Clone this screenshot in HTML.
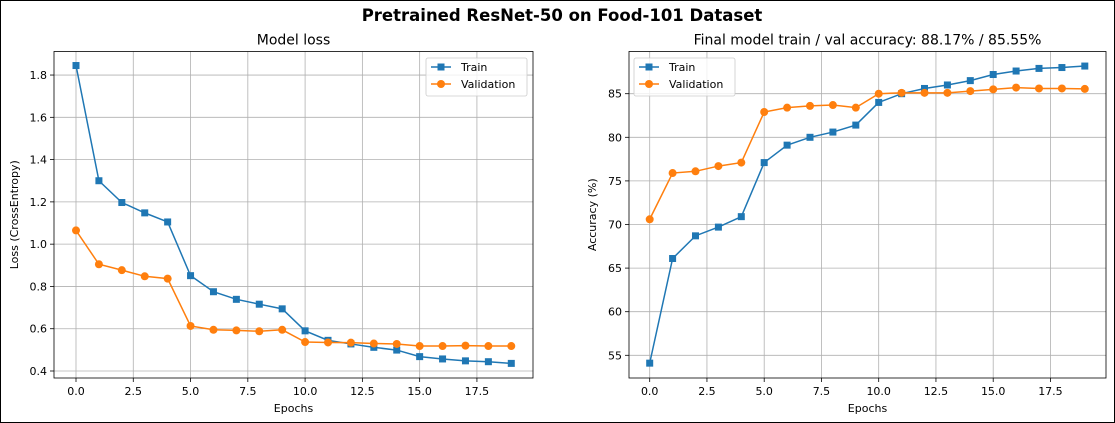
<!DOCTYPE html>
<html><head><meta charset="utf-8"><style>
html,body{margin:0;padding:0;background:#fff}
#fig{position:relative;width:1113px;height:421px;border:1px solid #000;overflow:hidden}
svg text{font-family:"DejaVu Sans","Liberation Sans",sans-serif;fill:#000}
</style></head><body>
<div id="fig">
<svg id="svg" width="1113" height="421" xmlns="http://www.w3.org/2000/svg">
<text x="561" y="20" text-anchor="middle" font-size="16.5" font-weight="bold">Pretrained ResNet-50 on Food-101 Dataset</text>
</svg>
</div>
<script>
const epochs=[0,1,2,3,4,5,6,7,8,9,10,11,12,13,14,15,16,17,18,19];
const lossTrain=[1.845,1.30,1.197,1.148,1.105,0.851,0.775,0.739,0.716,0.694,0.590,0.545,0.528,0.512,0.499,0.468,0.457,0.448,0.444,0.436];
const lossVal=[1.065,0.905,0.877,0.848,0.837,0.613,0.595,0.592,0.588,0.595,0.537,0.535,0.534,0.530,0.528,0.518,0.518,0.520,0.518,0.518];
const accTrain=[54.1,66.1,68.7,69.7,70.9,77.1,79.1,80.0,80.6,81.4,84.0,85.0,85.6,86.0,86.5,87.2,87.6,87.9,88.0,88.17];
const accVal=[70.6,75.9,76.1,76.7,77.1,82.9,83.4,83.6,83.7,83.4,85.0,85.1,85.1,85.1,85.3,85.5,85.7,85.6,85.6,85.55];
const xTicks=[0,2.5,5,7.5,10,12.5,15,17.5];
const xTickLabels=["0.0","2.5","5.0","7.5","10.0","12.5","15.0","17.5"];
const lossTicks=[0.4,0.6,0.8,1.0,1.2,1.4,1.6,1.8];
const lossTickLabels=["0.4","0.6","0.8","1.0","1.2","1.4","1.6","1.8"];
const accTicks=[55,60,65,70,75,80,85];
const accTickLabels=["55","60","65","70","75","80","85"];

const NS="http://www.w3.org/2000/svg";
const svg=document.getElementById('svg');
function mk(tag,attrs,parent){const e=document.createElementNS(NS,tag);for(const k in attrs)e.setAttribute(k,attrs[k]);(parent||svg).appendChild(e);return e;}

function panel(o){
  const g=mk('g',{});
  
  
  const xs=e=>o.x0+o.xk*e;
  const ys=v=>o.y0-(v-o.yv0)*o.yk;
  xTicks.forEach((t,i)=>{
    const l=mk('line',{x1:xs(t),x2:xs(t),y1:o.top,y2:o.bot,stroke:'#b0b0b0','stroke-width':0.8},g);
    
    
    mk('line',{x1:xs(t),x2:xs(t),y1:o.bot,y2:o.bot+4,stroke:'#000','stroke-width':0.8},g);
    const tx=mk('text',{x:xs(t),y:o.bot+17,'text-anchor':'middle','font-size':11},g);
    tx.textContent=xTickLabels[i];
    
    
  });
  o.yTicks.forEach((t,i)=>{
    const l=mk('line',{x1:o.left,x2:o.right,y1:ys(t),y2:ys(t),stroke:'#b0b0b0','stroke-width':0.8},g);
    
    
    mk('line',{x1:o.left-4,x2:o.left,y1:ys(t),y2:ys(t),stroke:'#000','stroke-width':0.8},g);
    const tx=mk('text',{x:o.left-7,y:ys(t)+4,'text-anchor':'end','font-size':11},g);
    tx.textContent=o.yLabels[i];
    
    
  });
  [[o.train,'#1f77b4','sq','train-series'],[o.val,'#ff7f0e','ci','validation-series']].forEach(([d,c,m,n])=>{
    const s=mk('g',{},g);
    
    
    mk('polyline',{points:epochs.map((e,i)=>xs(e)+','+ys(d[i])).join(' '),fill:'none',stroke:c,'stroke-width':1.5},s);
    epochs.forEach((e,i)=>{
      let p;
      if(m==='sq')p=mk('rect',{x:xs(e)-3.5,y:ys(d[i])-3.5,width:7,height:7,fill:c},s);
      else p=mk('circle',{cx:xs(e),cy:ys(d[i]),r:4,fill:c},s);
      
      
    });
  });
  const fr=mk('rect',{x:o.left,y:o.top,width:o.right-o.left,height:o.bot-o.top,fill:'none',stroke:'#000','stroke-width':0.8},g);
  
  
  const t=mk('text',{x:(o.left+o.right)/2,y:o.top-7,'text-anchor':'middle','font-size':14},g);
  t.textContent=o.title;
  
  
  const xl=mk('text',{x:(o.left+o.right)/2,y:o.bot+34,'text-anchor':'middle','font-size':11},g);
  xl.textContent='Epochs';
  
  
  const cy=(o.top+o.bot)/2;
  const yl=mk('text',{x:o.ylx,y:cy,'text-anchor':'middle','font-size':11,transform:`rotate(-90 ${o.ylx} ${cy})`},g);
  yl.textContent=o.ytitle;
  
  
  const lg=mk('g',{},g);
  
  
  mk('rect',{x:o.lgx,y:57,width:101,height:38,rx:2,fill:'#fff','fill-opacity':0.8,stroke:'#ccc','stroke-width':0.8},lg);
  [['Train','#1f77b4','sq',66],['Validation','#ff7f0e','ci',83]].forEach(([lab,c,m,y])=>{
    mk('line',{x1:o.lgx+5,x2:o.lgx+25,y1:y,y2:y,stroke:c,'stroke-width':1.5},lg);
    if(m==='sq')mk('rect',{x:o.lgx+11.5,y:y-3.5,width:7,height:7,fill:c},lg);
    else mk('circle',{cx:o.lgx+15,cy:y,r:4,fill:c},lg);
    const tx=mk('text',{x:o.lgx+35,y:y+4,'font-size':11},lg);
    tx.textContent=lab;
    
    
  });
}
panel({name:'loss-panel',left:53,right:532,top:50.5,bot:377,x0:75,xk:22.91,y0:370,yv0:0.4,yk:211.4,
  yTicks:lossTicks,yLabels:lossTickLabels,train:lossTrain,val:lossVal,title:'Model loss',ytitle:'Loss (CrossEntropy)',ylx:17,lgx:425});
panel({name:'accuracy-panel',left:628,right:1105,top:50.5,bot:377,x0:648.7,xk:22.9,y0:354.3,yv0:55,yk:8.72,
  yTicks:accTicks,yLabels:accTickLabels,train:accTrain,val:accVal,title:'Final model train / val accuracy: 88.17% / 85.55%',ytitle:'Accuracy (%)',ylx:595,lgx:633});
</script>
</body></html>
